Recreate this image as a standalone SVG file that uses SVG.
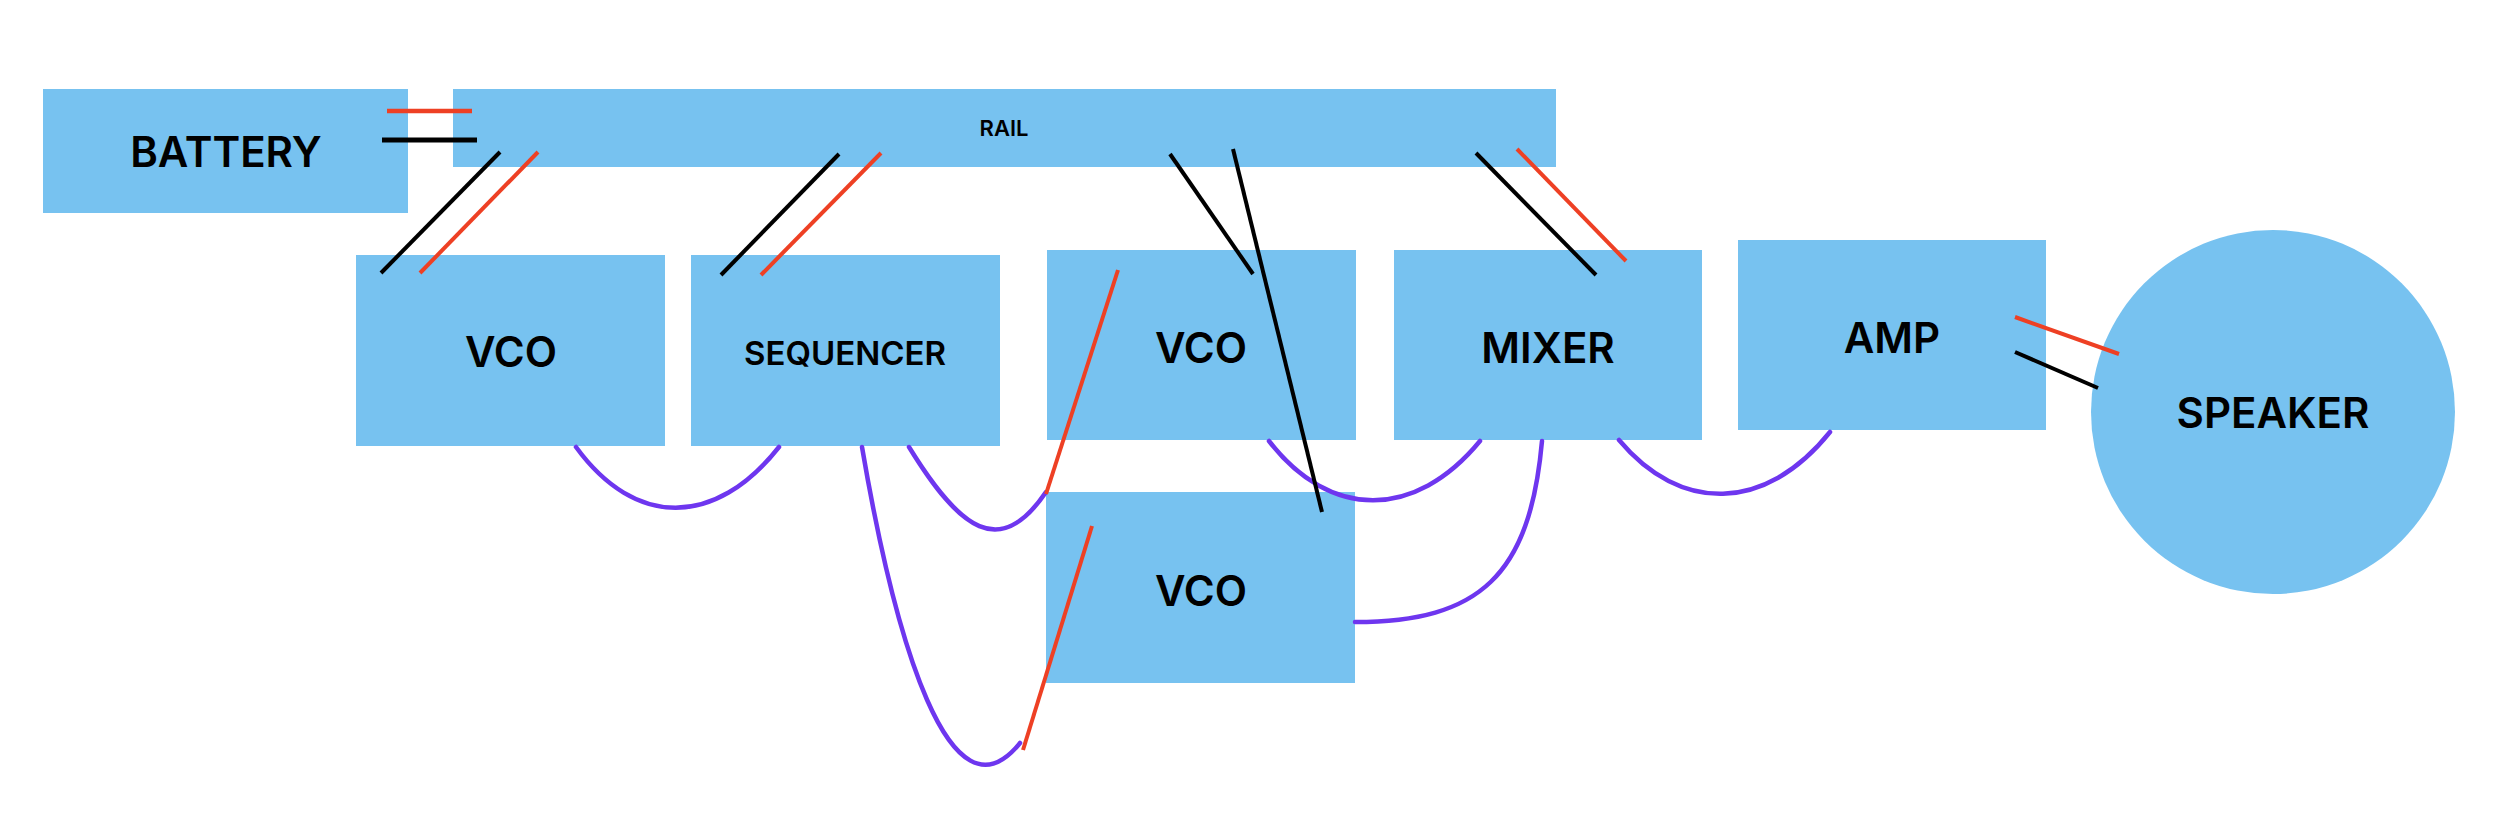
<svg xmlns="http://www.w3.org/2000/svg" width="2498" height="822" viewBox="0 0 2498 822">
<style>
.node{fill:#77c2f0}
.lbl{font-family:Inter,"Noto Sans","Liberation Sans",sans-serif;font-weight:600;font-size:42px;fill:#000;text-anchor:middle}
.patch{fill:none;stroke:#6e36ef;stroke-width:4.5;stroke-linecap:round}
.red{stroke:#ee4024;stroke-width:4;fill:none}
.blk{stroke:#000;stroke-width:4;fill:none}
</style>
<rect width="2498" height="822" fill="#fff"/>
<g id="battery"><rect class="node" x="43" y="89" width="365" height="124"/><text class="lbl" x="226" y="167">BATTERY</text></g>
<g id="rail"><rect class="node" x="453" y="89" width="1103" height="78"/><text class="lbl" x="1004" y="136" style="font-size:22px">RAIL</text></g>
<g id="vco1"><rect class="node" x="356" y="255" width="309" height="191"/><text class="lbl" x="511" y="367">VCO</text></g>
<g id="sequencer"><rect class="node" x="691" y="255" width="309" height="191"/><text class="lbl" x="845" y="365" style="font-size:33px">SEQUENCER</text></g>
<g id="vco2"><rect class="node" x="1047" y="250" width="309" height="190"/><text class="lbl" x="1201" y="363">VCO</text></g>
<g id="mixer"><rect class="node" x="1394" y="250" width="308" height="190"/><text class="lbl" x="1548" y="363">MIXER</text></g>
<g id="amp"><rect class="node" x="1738" y="240" width="308" height="190"/><text class="lbl" x="1892" y="353">AMP</text></g>
<g id="vco3"><rect class="node" x="1046" y="492" width="309" height="191"/><text class="lbl" x="1201" y="606">VCO</text></g>
<g id="speaker"><circle class="node" cx="2273" cy="412" r="182"/><text class="lbl" x="2273" y="428">SPEAKER</text></g>
<g id="connectors">
<path class="patch" d="M576,447 C635,528 715,528 779,447"/>
<path class="patch" d="M862,447 C895,640 950,830 1020,743"/>
<path class="patch" d="M909,447 C960,530 1000,560 1046,492"/>
<path class="patch" d="M1269,441 C1330,520 1415,520 1480,441"/>
<path class="patch" d="M1542,441 C1530,575 1480,622 1355,622"/>
<path class="patch" d="M1619,440 C1680,513 1765,513 1830,432"/>
<line class="red" x1="387" y1="111" x2="472" y2="111" style="stroke-width:4.5"/>
<line class="blk" x1="382" y1="140" x2="477" y2="140" style="stroke-width:5"/>
<line class="blk" x1="500" y1="152" x2="381" y2="273"/>
<line class="red" x1="538" y1="152" x2="420" y2="273"/>
<line class="blk" x1="839" y1="154" x2="721" y2="275"/>
<line class="red" x1="881" y1="153" x2="761" y2="275"/>
<line class="blk" x1="1170" y1="154" x2="1253" y2="274"/>
<line class="blk" x1="1233" y1="149" x2="1322" y2="512"/>
<line class="red" x1="1118" y1="270" x2="1046" y2="494"/>
<line class="red" x1="1092" y1="526" x2="1023" y2="750"/>
<line class="blk" x1="1476" y1="153" x2="1596" y2="275"/>
<line class="red" x1="1517" y1="149" x2="1626" y2="261"/>
<line class="red" x1="2015" y1="317" x2="2119" y2="354"/>
<line class="blk" x1="2015" y1="352" x2="2098" y2="388"/>
</g>
</svg>
